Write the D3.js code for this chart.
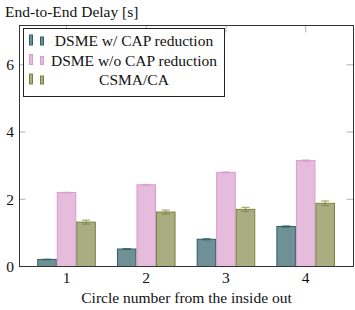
<!DOCTYPE html>
<html><head><meta charset="utf-8">
<script src="https://cdn.jsdelivr.net/npm/d3@7/dist/d3.min.js"></script>
<style>body{margin:0;background:#fff}svg{display:block}</style>
</head><body><svg id="c" width="355" height="310"></svg>
<script>
const categories = [1, 2, 3, 4];
const seriesNames = ["DSME w/ CAP reduction", "DSME w/o CAP reduction", "CSMA/CA"];
const withCap = [0.21, 0.52, 0.81, 1.19];
const withCapErr = [0.01, 0.015, 0.02, 0.02];
const withoutCap = [2.20, 2.43, 2.80, 3.15];
const withoutCapErr = [0.01, 0.015, 0.015, 0.02];
const csma = [1.32, 1.62, 1.70, 1.88];
const csmaErr = [0.06, 0.06, 0.06, 0.07];
const yTicks = [0, 2, 4, 6];

const fills = ["#6f9195", "#e6bcdd", "#a8ad82"];
const strokes = ["#2f5e63", "#dc98cf", "#7a8238"];
const values = [withCap, withoutCap, csma];
const errs = [withCapErr, withoutCapErr, csmaErr];

const FONT = "Liberation Serif";
const svg = d3.select("#c");
const L = 19.5, R = 353.5, T = 25.5, B = 266.5;
const x = d3.scaleLinear().domain([0.41, 4.6]).range([L, R]);
const y = d3.scaleLinear().domain([0, 7.17]).range([B, T]);
const bw = 0.245;
const FS = 15.5;

// ticks (inside, gray)
const tg = svg.append("g").attr("stroke", "#b0b0b0").attr("stroke-width", 1);
yTicks.filter(d => d > 0).forEach(d => {
  tg.append("line").attr("x1", L).attr("x2", L + 6).attr("y1", y(d)).attr("y2", y(d));
  tg.append("line").attr("x1", R - 7).attr("x2", R).attr("y1", y(d)).attr("y2", y(d));
});
categories.forEach(c => {
  tg.append("line").attr("x1", x(c)).attr("x2", x(c)).attr("y1", T).attr("y2", T + 7);
});

// bars
values.forEach((vals, s) => {
  const g = svg.append("g");
  categories.forEach((c, i) => {
    const x0 = x(c + (s - 1.5) * bw), x1 = x(c + (s - 0.5) * bw);
    g.append("rect").attr("x", x0 + 0.5).attr("y", y(vals[i]))
      .attr("width", x1 - x0 - 1).attr("height", y(0) - y(vals[i]))
      .attr("fill", fills[s]).attr("stroke", strokes[s]).attr("stroke-width", 1);
    const xc = x(c + (s - 1) * bw);
    const e = errs[s][i];
    const eg = g.append("g").attr("stroke", strokes[s]).attr("stroke-width", 1).attr("opacity", 0.8);
    eg.append("line").attr("x1", xc).attr("x2", xc).attr("y1", y(vals[i] - e)).attr("y2", y(vals[i] + e));
    eg.append("line").attr("x1", xc - 4).attr("x2", xc + 4).attr("y1", y(vals[i] + e)).attr("y2", y(vals[i] + e));
    eg.append("line").attr("x1", xc - 4).attr("x2", xc + 4).attr("y1", y(vals[i] - e)).attr("y2", y(vals[i] - e));
  });
});

// frame
svg.append("rect").attr("x", L).attr("y", T).attr("width", R - L).attr("height", B - T)
  .attr("fill", "none").attr("stroke", "#333").attr("stroke-width", 1);

function txt(g) { return g.append("text").attr("font-family", FONT).attr("font-size", FS).attr("fill", "#111"); }

// tick labels
yTicks.forEach(d => {
  txt(svg).attr("x", 14).attr("y", y(d)).attr("dy", "0.35em").attr("text-anchor", "end").text(d);
});
categories.forEach(d => {
  txt(svg).attr("x", x(d)).attr("y", 283).attr("text-anchor", "middle").text(d);
});

// titles
txt(svg).attr("x", 5).attr("y", 17).text("End-to-End Delay [s]");
txt(svg).attr("x", 186.5).attr("y", 303).attr("text-anchor", "middle").text("Circle number from the inside out");

// legend
const lg = svg.append("g");
lg.append("rect").attr("x", 23.5).attr("y", 28.5).attr("width", 201).attr("height", 68)
  .attr("fill", "#fff").attr("stroke", "#222").attr("stroke-width", 1);
seriesNames.forEach((n, s) => {
  const yy = 41 + s * 19.5;
  lg.append("rect").attr("x", 29.5).attr("y", yy - 6).attr("width", 3).attr("height", 10)
    .attr("fill", fills[s]).attr("stroke", strokes[s]);
  lg.append("rect").attr("x", 40.5).attr("y", yy - 4).attr("width", 3).attr("height", 8)
    .attr("fill", fills[s]).attr("stroke", strokes[s]);
  txt(lg).attr("x", 134).attr("y", yy).attr("dy", "0.35em").attr("text-anchor", "middle").text(n);
});
</script></body></html>
